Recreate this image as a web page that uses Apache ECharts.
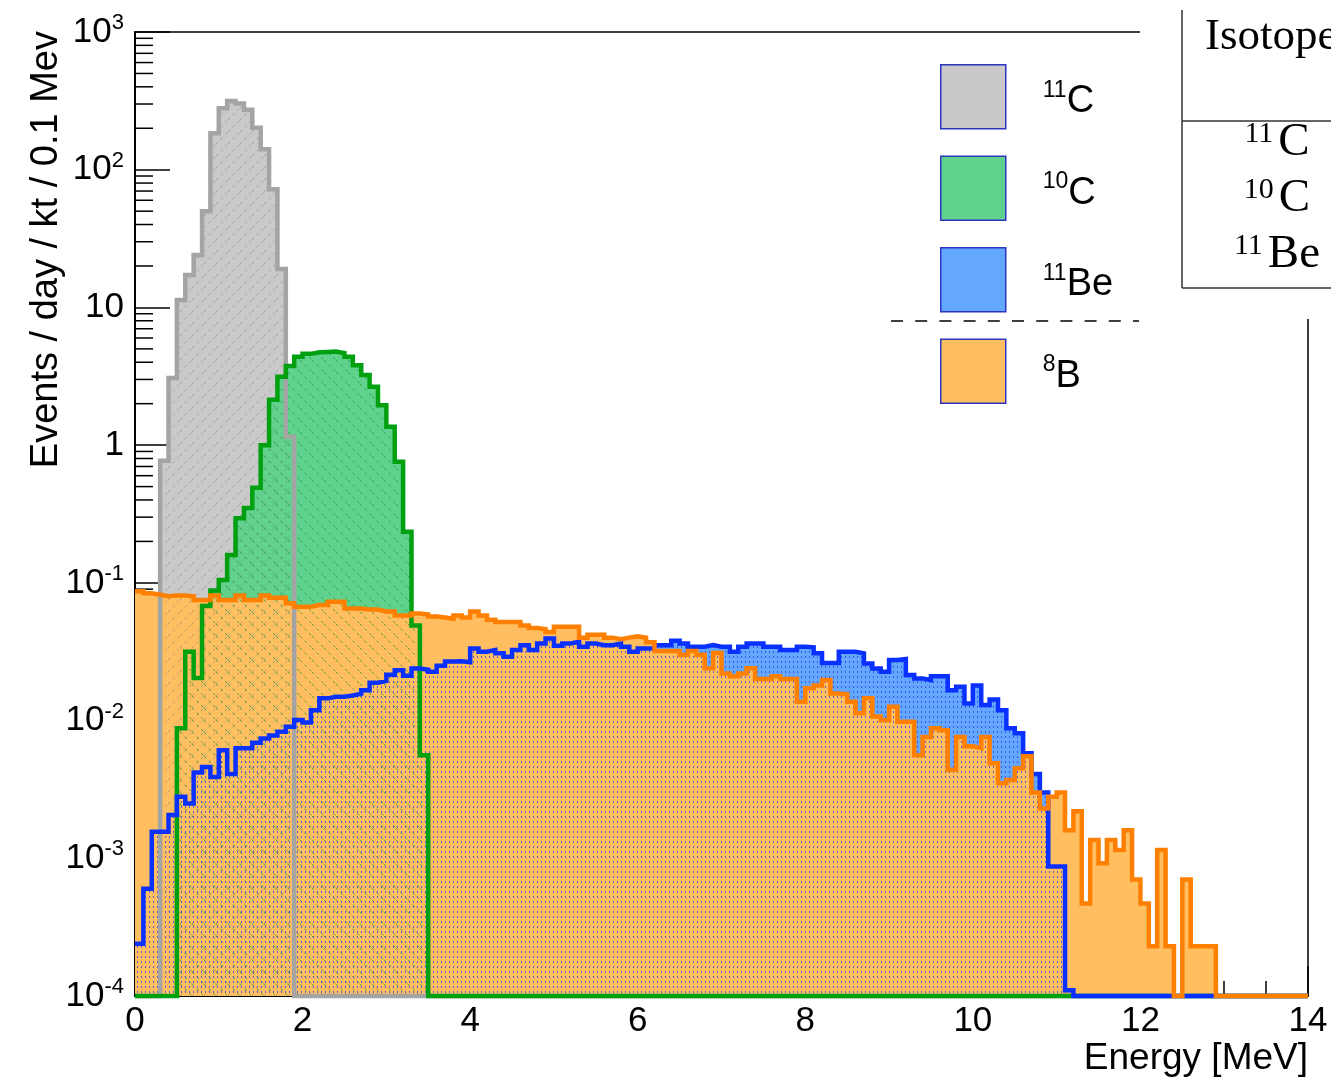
<!DOCTYPE html>
<html>
<head>
<meta charset="utf-8">
<script src="https://cdn.jsdelivr.net/npm/echarts@6/dist/echarts.min.js"></script>
<style>
  html, body { margin: 0; padding: 0; background: #fff; }
  #chart { width: 1331px; height: 1077px; }
</style>
</head>
<body>
<div id="chart"></div>
<script>
// histogram: 0.1 MeV bins from 0 to 14 MeV, empty bins drawn at the axis floor
const binWidth = 0.1
const nBins = 140
const yFloor = 1e-4

// 11C (grey), first bin starts at 0.3 MeV
const c11Start = 0.3
const c11Values = [0.77, 3.07, 11.3, 17.2, 24, 50, 184, 279, 316, 303, 272, 202, 141, 72, 19, 1.15]

// 10C (green), first bin starts at 0.5 MeV
const c10Start = 0.5
const c10Values = [0.0088, 0.0316, 0.0204, 0.068, 0.088, 0.105, 0.159, 0.294, 0.35, 0.49,
  1.0, 2.14, 3.14, 3.76, 4.38, 4.6, 4.72, 4.75, 4.78, 4.65,
  4.38, 3.8, 3.23, 2.65, 1.95, 1.36, 0.757, 0.235, 0.049, 0.0056]

// 11Be (blue), first bin starts at 0 MeV
const be11Start = 0
const be11Values = [0.00024, 0.0006, 0.00156, 0.00156, 0.00206, 0.0028, 0.0025, 0.0042, 0.0046, 0.0039,
  0.0061, 0.0041, 0.0063, 0.0063, 0.0069, 0.0074, 0.0078, 0.0083, 0.009, 0.0101,
  0.0097, 0.0119, 0.0145, 0.0149, 0.0149, 0.0152, 0.0157, 0.0166, 0.0188, 0.0194,
  0.0215, 0.0232, 0.0212, 0.0239, 0.0234, 0.0226, 0.025, 0.0268, 0.027, 0.0265,
  0.0334, 0.0316, 0.0325, 0.0308, 0.0291, 0.0325, 0.0353, 0.0325, 0.0363, 0.0395,
  0.035, 0.0363, 0.0374, 0.0344, 0.0363, 0.0353, 0.0353, 0.0363, 0.0344, 0.0316,
  0.0334, 0.0334, 0.0353, 0.0353, 0.038, 0.0363, 0.0344, 0.0344, 0.0353, 0.0344,
  0.0344, 0.0316, 0.0344, 0.0363, 0.0363, 0.0344, 0.0344, 0.0325, 0.0325, 0.0344,
  0.034, 0.0308, 0.0262, 0.0262, 0.0316, 0.0316, 0.0308, 0.026, 0.0239, 0.0226,
  0.0275, 0.028, 0.0214, 0.0202, 0.0197, 0.021, 0.021, 0.0166, 0.0176, 0.0133,
  0.018, 0.013, 0.0142, 0.0119, 0.0088, 0.0081, 0.0058, 0.0041, 0.003, 0.00087,
  0.00087, 0.00011]

// 8B (orange), first bin starts at 0 MeV
const b8Start = 0
const b8Values = [0.087, 0.084, 0.082, 0.08, 0.081, 0.081, 0.08, 0.075, 0.075, 0.081,
  0.075, 0.075, 0.081, 0.075, 0.075, 0.081, 0.078, 0.078, 0.071, 0.067,
  0.067, 0.069, 0.069, 0.073, 0.073, 0.065, 0.065, 0.064, 0.064, 0.062,
  0.062, 0.058, 0.058, 0.06, 0.059, 0.057, 0.056, 0.055, 0.058, 0.056,
  0.062, 0.058, 0.054, 0.052, 0.052, 0.052, 0.049, 0.047, 0.046, 0.044,
  0.048, 0.048, 0.048, 0.04, 0.042, 0.042, 0.04, 0.039, 0.04, 0.041,
  0.04, 0.037, 0.032, 0.032, 0.032, 0.03, 0.032, 0.03, 0.024, 0.031,
  0.022, 0.021, 0.022, 0.024, 0.02, 0.02, 0.021, 0.02, 0.02, 0.0137,
  0.0172, 0.018, 0.0197, 0.0157, 0.0155, 0.0137, 0.0113, 0.0145, 0.0107, 0.0101,
  0.0126, 0.0098, 0.0098, 0.0056, 0.0076, 0.0088, 0.0085, 0.0044, 0.0076, 0.0065,
  0.0063, 0.0076, 0.0049, 0.0035, 0.0037, 0.0045, 0.0055, 0.003, 0.0023, 0.0028,
  0.003, 0.0016, 0.0022, 0.00047, 0.00136, 0.00092, 0.00136, 0.00115, 0.0016, 0.0007,
  0.00047, 0.00023, 0.00115, 0.00023, 0, 0.0007, 0.00023, 0.00023, 0.00023]

const isoNames = ['11C', '10C', '11Be', '8B']
const isoMass = ['11', '10', '11', '8']
const isoSymbol = ['C', 'C', 'Be', 'B']

// y minor ticks: 2..9 times each decade
const minorMult = [2, 3, 4, 5, 6, 7, 8, 9]
const minorDecades = [1e-4, 1e-3, 1e-2, 1e-1, 1, 10, 100]

// table on the right (cut off in the source figure)
const tableRows = [['11', 'C'], ['10', 'C'], ['11', 'Be']]

const histPoints = (start, values) => {
  const first = Math.round(start / binWidth)
  const pts = []
  for (let k = 0; k < nBins; k++) {
    const i = k - first
    let v = (i >= 0 && i < values.length) ? values[i] : 0
    if (!(v > 0)) v = yFloor
    pts.push([+(k * binWidth).toFixed(1), v])
  }
  pts.push([nBins * binWidth, pts[nBins - 1][1]])
  return pts
}

// diagonal dashed hatch tile
const hatch = (color, size, back) => {
  const c = document.createElement('canvas')
  c.width = size
  c.height = size
  const g = c.getContext('2d')
  g.strokeStyle = color
  g.lineWidth = 1
  g.setLineDash([3, 3.5])
  g.beginPath()
  if (back) {
    g.moveTo(0, 0); g.lineTo(size, size)
  } else {
    g.moveTo(0, size); g.lineTo(size, 0)
  }
  g.stroke()
  return c
}

const dots = (color) => {
  const c = document.createElement('canvas')
  c.width = 4
  c.height = 5
  const g = c.getContext('2d')
  g.fillStyle = color
  g.fillRect(1, 1, 1, 2)
  return c
}

const fills = ['#c9c9c9', '#60d28e', '#63a7ff', '#ffbe60']
const lines = ['#a4a4a4', '#00a010', '#0a30ff', '#ff7f00']
const patterns = [
  { image: hatch('rgba(140,140,140,0.6)', 12, false), repeat: 'repeat' },
  { image: hatch('rgba(20,150,40,0.7)', 12, true), repeat: 'repeat' },
  { image: dots('rgba(50,70,230,0.8)'), repeat: 'repeat' },
  null
]

const data = [
  histPoints(c11Start, c11Values),
  histPoints(c10Start, c10Values),
  histPoints(be11Start, be11Values),
  histPoints(b8Start, b8Values)
]

const series = []
// solid fills first
for (let i = 0; i < 4; i++) {
  series.push({
    name: isoNames[i],
    type: 'line',
    data: data[i],
    step: 'end',
    symbol: 'none',
    silent: true,
    emphasis: { disabled: true },
    lineStyle: { width: 0, color: fills[i] },
    itemStyle: { color: fills[i], borderColor: '#2a35c0', borderWidth: 1.5 },
    areaStyle: { color: fills[i], opacity: 1, origin: 'start' }
  })
}
// hatching and outlines on top
for (let i = 0; i < 4; i++) {
  const s = {
    type: 'line',
    data: data[i],
    step: 'end',
    symbol: 'none',
    silent: true,
    clip: false,
    emphasis: { disabled: true },
    lineStyle: { width: 4.5, color: lines[i], join: 'miter' },
    itemStyle: { color: lines[i] }
  }
  if (patterns[i]) s.areaStyle = { color: patterns[i], opacity: 1, origin: 'start' }
  series.push(s)
}
// minor log ticks on the y axis
const minorTicks = []
minorDecades.forEach(d => minorMult.forEach(m => minorTicks.push([0, m * d])))
series.push({
  type: 'custom',
  data: minorTicks,
  silent: true,
  clip: false,
  renderItem: (params, api) => {
    const p = api.coord([0, api.value(1)])
    return {
      type: 'line',
      shape: { x1: p[0], y1: p[1], x2: p[0] + 18, y2: p[1] },
      style: { stroke: '#000', lineWidth: 1.5 }
    }
  }
})

const font = 'Liberation Sans'
const serif = 'Liberation Serif'

const chart = echarts.init(document.getElementById('chart'))
chart.setOption({
  animation: false,
  backgroundColor: '#fff',
  grid: { left: 135, right: 23, top: 32, bottom: 81, show: true, borderColor: '#000', borderWidth: 1.5, containLabel: false },
  xAxis: {
    type: 'value',
    min: 0,
    max: 14,
    interval: 2,
    name: 'Energy [MeV]',
    nameLocation: 'end',
    nameGap: 0,
    nameTextStyle: { fontFamily: font, fontSize: 37, color: '#000', align: 'right', verticalAlign: 'top', padding: [44, 0, 0, 0] },
    axisLine: { onZero: false, lineStyle: { color: '#000', width: 2 } },
    axisTick: { inside: true, length: 30, lineStyle: { color: '#000', width: 1.5 } },
    minorTick: { show: true, splitNumber: 4, length: 15, lineStyle: { color: '#000', width: 1.5 } },
    splitLine: { show: false },
    axisLabel: { fontFamily: font, fontSize: 35, color: '#000', margin: 8 }
  },
  yAxis: {
    type: 'log',
    logBase: 10,
    min: 1e-4,
    max: 1e3,
    splitNumber: 7,
    axisLine: { show: true, lineStyle: { color: '#000', width: 2 } },
    axisTick: { inside: true, length: 35, lineStyle: { color: '#000', width: 1.5 } },
    splitLine: { show: false },
    axisLabel: {
      fontFamily: font,
      fontSize: 35,
      color: '#000',
      margin: 11,
      lineHeight: 40,
      formatter: v => {
        const e = Math.round(Math.log10(v))
        if (e === 0) return '1'
        if (e === 1) return '10'
        return '10{sup|' + e + '}'
      },
      rich: { sup: { fontFamily: font, fontSize: 22, lineHeight: 22, verticalAlign: 'top', color: '#000' } }
    }
  },
  legend: {
    data: isoNames,
    orient: 'vertical',
    left: 940,
    top: 64,
    padding: 0,
    icon: 'rect',
    itemWidth: 65,
    itemHeight: 64,
    itemGap: 26,
    selectedMode: false,
    itemStyle: { borderColor: '#2a35c0', borderWidth: 1.5 },
    formatter: name => {
      const i = isoNames.indexOf(name)
      return '{gap|}{sup|' + isoMass[i] + '}{el|' + isoSymbol[i] + '}'
    },
    textStyle: {
      fontFamily: font,
      fontSize: 36,
      color: '#000',
      padding: [10, 0, 0, 0],
      rich: {
        gap: { width: 32 },
        sup: { fontFamily: font, fontSize: 23, lineHeight: 24, verticalAlign: 'top', color: '#000' },
        el: { fontFamily: font, fontSize: 38, lineHeight: 46, color: '#000' }
      }
    }
  },
  graphic: [
    {
      type: 'text',
      x: 47,
      y: 31,
      rotation: Math.PI / 2,
      style: { text: 'Events / day / kt / 0.1 Mev', font: '38px "Liberation Sans"', fill: '#000', align: 'right', verticalAlign: 'middle', textAlign: 'right', textVerticalAlign: 'middle' }
    },
    {
      type: 'line',
      shape: { x1: 891, y1: 321, x2: 1139, y2: 321 },
      style: { stroke: '#000', lineWidth: 1.5, lineDash: [12, 12.2] }
    },
    // table overlay in the top right corner
    { type: 'rect', shape: { x: 1140, y: 0, width: 191, height: 319 }, style: { fill: '#fff' }, z: 10 },
    { type: 'line', shape: { x1: 1182, y1: 10, x2: 1182, y2: 288 }, style: { stroke: '#333', lineWidth: 1.5 }, z: 11 },
    { type: 'line', shape: { x1: 1182, y1: 121, x2: 1331, y2: 121 }, style: { stroke: '#333', lineWidth: 1.5 }, z: 11 },
    { type: 'line', shape: { x1: 1182, y1: 288, x2: 1331, y2: 288 }, style: { stroke: '#333', lineWidth: 1.5 }, z: 11 },
    {
      type: 'text', x: 1205, y: 37, z: 11,
      style: { text: 'Isotope', font: '45px "Liberation Serif"', fill: '#000', align: 'left', verticalAlign: 'middle', textAlign: 'left', textVerticalAlign: 'middle' }
    }
  ].concat(tableRows.map((r, i) => ({
    type: 'text', x: 1277, y: [143, 199, 255][i], z: 11,
    style: {
      text: '{sup|' + r[0] + '}{el|' + r[1] + '}',
      fill: '#000',
      align: 'center', verticalAlign: 'middle', textAlign: 'center', textVerticalAlign: 'middle',
      rich: {
        sup: { fontFamily: serif, fontSize: 30, lineHeight: 28, verticalAlign: 'top', fill: '#000', color: '#000', padding: [0, 5, 0, 0] },
        el: { fontFamily: serif, fontSize: 47, lineHeight: 48, fill: '#000', color: '#000' }
      }
    }
  }))),
  series
})
</script>
</body>
</html>
